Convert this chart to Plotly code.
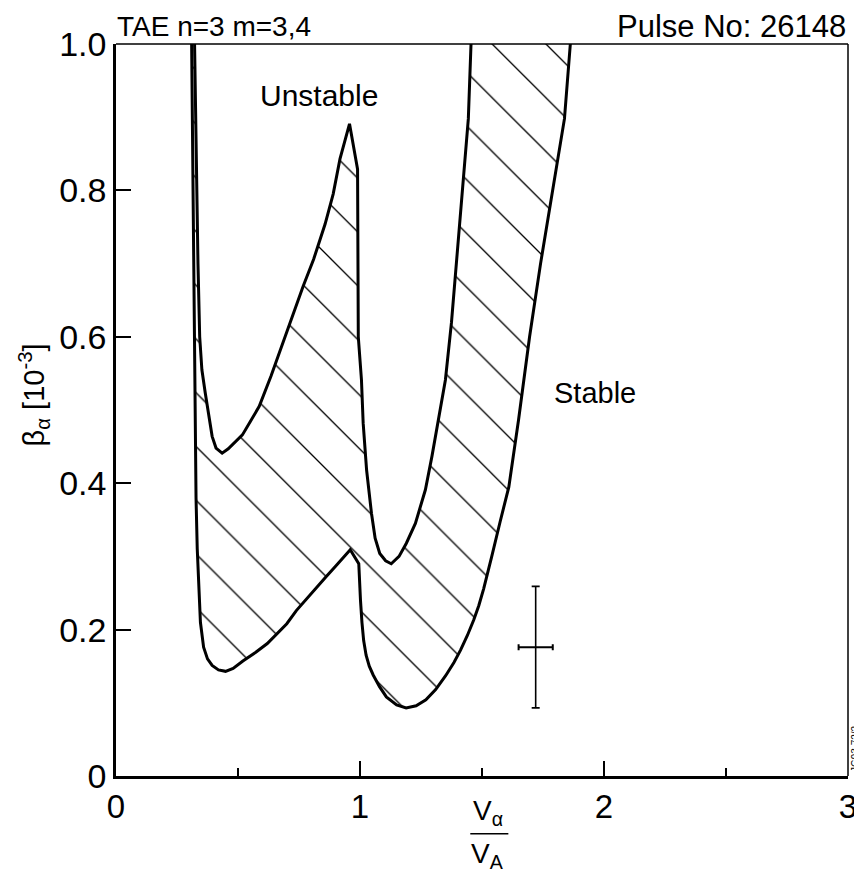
import plotly.graph_objects as go

# ---- data ----
# lower stability boundary
x_low = [0.31, 0.314, 0.318, 0.321, 0.325, 0.328, 0.333, 0.338, 0.346, 0.359, 0.375, 0.394, 0.42, 0.449,
         0.48, 0.52, 0.573, 0.62, 0.663, 0.70, 0.739, 0.78, 0.822, 0.86, 0.898, 0.93, 0.96, 0.995,
         0.997, 1.002, 1.008, 1.015, 1.025, 1.038, 1.054, 1.08, 1.108, 1.15, 1.189, 1.23, 1.27, 1.31,
         1.351, 1.385, 1.412, 1.44, 1.466, 1.487, 1.507, 1.525, 1.54, 1.574, 1.61, 1.65, 1.695, 1.74,
         1.79, 1.838, 1.862]
y_low = [1.0, 0.85, 0.7, 0.55, 0.45, 0.38, 0.31, 0.26, 0.21, 0.176, 0.16, 0.151, 0.145, 0.143,
         0.147, 0.157, 0.169, 0.181, 0.195, 0.208, 0.226, 0.242, 0.258, 0.272, 0.286, 0.298, 0.309, 0.29,
         0.265, 0.24, 0.21, 0.185, 0.165, 0.15, 0.138, 0.122, 0.108, 0.097, 0.093, 0.096, 0.104, 0.118,
         0.137, 0.155, 0.172, 0.192, 0.213, 0.233, 0.256, 0.278, 0.30, 0.347, 0.395, 0.487, 0.6, 0.7,
         0.8, 0.898, 1.0]

# upper stability boundary
x_up = [0.322, 0.326, 0.33, 0.336, 0.343, 0.352, 0.366, 0.38, 0.394, 0.41, 0.435, 0.46, 0.49, 0.518,
        0.55, 0.587, 0.635, 0.684, 0.725, 0.767, 0.81, 0.857, 0.89, 0.918, 0.94, 0.957, 0.99, 0.99,
        0.993, 1.006, 1.013, 1.027, 1.047, 1.062, 1.081, 1.105, 1.128, 1.16, 1.19, 1.227, 1.268, 1.295,
        1.32, 1.35, 1.375, 1.40, 1.425, 1.444, 1.455]
y_up = [1.0, 0.9, 0.8, 0.7, 0.6, 0.555, 0.523, 0.49, 0.464, 0.448, 0.441, 0.447, 0.457, 0.466,
        0.484, 0.505, 0.546, 0.592, 0.628, 0.669, 0.706, 0.754, 0.795, 0.843, 0.87, 0.891, 0.829, 0.7,
        0.6, 0.541, 0.482, 0.418, 0.359, 0.325, 0.304, 0.294, 0.29, 0.30, 0.318, 0.345, 0.391, 0.437,
        0.487, 0.541, 0.62, 0.72, 0.81, 0.898, 1.0]

# error bar point
err_x = [1.72]
err_y = [0.176]
err_dx = [0.07]
err_dy = [0.083]

x_tickvals = [0, 1, 2, 3]
x_ticktext = ["0", "1", "2", "3"]
y_tickvals = [0, 0.2, 0.4, 0.6, 0.8, 1.0]
y_ticktext = ["0", "0.2", "0.4", "0.6", "0.8", "1.0"]

FONT = "Liberation Sans, Arial, Helvetica, sans-serif"

fig = go.Figure()

# hatched band between the two boundaries
fig.add_trace(go.Scatter(
    x=x_low + x_up[::-1], y=y_low + y_up[::-1],
    mode="lines", fill="toself", line=dict(width=0, color="rgba(0,0,0,0)"),
    fillcolor="white",
    fillpattern=dict(shape="\\", size=38, solidity=0.035, fgcolor="black", bgcolor="white",
                     fillmode="replace"),
    hoverinfo="skip", showlegend=False))

fig.add_trace(go.Scatter(x=x_low, y=y_low, mode="lines",
                         line=dict(color="black", width=3), showlegend=False))
fig.add_trace(go.Scatter(x=x_up, y=y_up, mode="lines",
                         line=dict(color="black", width=3), showlegend=False))

fig.add_trace(go.Scatter(
    x=err_x, y=err_y, mode="markers", marker=dict(size=1, color="black"),
    error_x=dict(type="data", array=err_dx, color="black", thickness=2, width=3),
    error_y=dict(type="data", array=err_dy, color="black", thickness=1.6, width=4),
    showlegend=False))

fig.update_layout(
    template="none",
    width=854, height=872,
    margin=dict(l=108, r=14, t=36, b=104),
    paper_bgcolor="white", plot_bgcolor="white",
    font=dict(family=FONT, color="black", size=29),
    showlegend=False,
    xaxis=dict(range=[0, 3], showgrid=False, zeroline=False, automargin=False,
               showline=True, linecolor="black", linewidth=2.5,
               tickmode="array", tickvals=x_tickvals, ticktext=x_ticktext,
               ticks="inside", ticklen=15, tickwidth=1.5, tickcolor="black",
               tickfont=dict(size=33),
               minor=dict(tickmode="array", tickvals=[0.5, 1.5, 2.5], ticks="inside",
                          ticklen=8, tickwidth=1.5, tickcolor="black")),
    yaxis=dict(range=[0, 1], showgrid=False, zeroline=False, automargin=False,
               showline=True, linecolor="black", linewidth=2.5,
               tickmode="array", tickvals=y_tickvals, ticktext=y_ticktext,
               ticks="inside", ticklen=15, tickwidth=1.5, tickcolor="black",
               tickfont=dict(size=34)),
)

# top and right frame
fig.add_shape(type="line", xref="paper", yref="paper", x0=0, x1=1, y0=1, y1=1,
              line=dict(color="black", width=1.5))
fig.add_shape(type="line", xref="paper", yref="paper", x0=1, x1=1, y0=0, y1=1,
              line=dict(color="black", width=1.5))

ann = [
    dict(text="TAE n=3 m=3,4", x=0.0, y=1.0, xref="paper", yref="paper",
         xanchor="left", yanchor="bottom", yshift=0, xshift=-1, font=dict(size=28)),
    dict(text="Pulse No: 26148", x=1.0, y=1.0, xref="paper", yref="paper",
         xanchor="right", yanchor="bottom", yshift=-2, font=dict(size=31)),
    dict(text="Unstable", x=0.83, y=0.93, xref="x", yref="y", font=dict(size=30)),
    dict(text="Stable", x=1.965, y=0.523, xref="x", yref="y", font=dict(size=29)),
    dict(text="JG93.72/2", x=1.0, y=0.0, xref="paper", yref="paper",
         xanchor="left", yanchor="bottom", xshift=0, yshift=2, textangle=-90,
         font=dict(size=10)),
    dict(text="β<sub>α</sub> [10<sup>-3</sup>]", x=-0.112, y=0.52, xref="paper", yref="paper",
         xanchor="center", yanchor="middle", textangle=-90, font=dict(size=29)),
    dict(text="V<sub>α</sub>", x=0.508, y=-0.05, xref="paper", yref="paper",
         yanchor="middle", font=dict(size=28)),
    dict(text="V<sub>A</sub>", x=0.508, y=-0.108, xref="paper", yref="paper",
         yanchor="middle", font=dict(size=28)),
]
for a in ann:
    a.setdefault("showarrow", False)
    fig.add_annotation(**a)

fig.add_shape(type="line", xref="paper", yref="paper", x0=0.484, x1=0.536,
              y0=-0.079, y1=-0.079, line=dict(color="black", width=1.5))

fig.write_html("out.html")
